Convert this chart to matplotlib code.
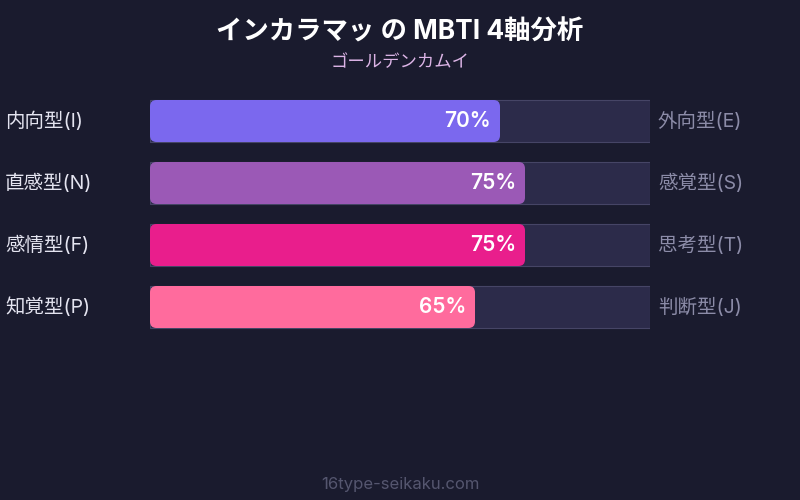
import matplotlib
matplotlib.use("Agg")
import matplotlib.pyplot as plt
from matplotlib.patches import FancyBboxPatch, Rectangle

# データ
left_labels = ["内向型(I)", "直感型(N)", "感情型(F)", "知覚型(P)"]
right_labels = ["外向型(E)", "感覚型(S)", "思考型(T)", "判断型(J)"]
values = [70, 75, 75, 65]
colors = ["#7b68ee", "#9b59b6", "#e91e8c", "#ff6b9d"]

title = "インカラマッ の MBTI 4軸分析"
subtitle = "ゴールデンカムイ"
footer = "16type-seikaku.com"

plt.rcParams['font.family'] = ['Inter', 'Noto Sans CJK JP', 'DejaVu Sans']

BG = "#1a1b2e"
TRACK = "#2c2b4a"
TRACK_EDGE = "#464566"

fig = plt.figure(figsize=(8, 5), dpi=100, facecolor=BG)

# バー領域: x=150..650px, 各行62px
ax = fig.add_axes([150 / 800, 1 - 338 / 500, 500 / 800, 248 / 500])
ax.set_facecolor(BG)
ax.set_xlim(0, 100)
ax.set_ylim(len(values) - 0.5, -0.5)
ax.axis("off")

bar_h = 42 / 62
aspect = (1 / 62) / (100 / 500)

for i, (v, c) in enumerate(zip(values, colors)):
    ax.add_patch(Rectangle((0, i - bar_h / 2), 100, bar_h,
                           facecolor=TRACK, edgecolor=TRACK_EDGE, linewidth=0.8))
    ax.add_patch(FancyBboxPatch((0, i - bar_h / 2), v, bar_h,
                                boxstyle="round,pad=0,rounding_size=1.3",
                                mutation_aspect=aspect,
                                facecolor=c, edgecolor="none"))
    ax.text(v - 1.8, i, f"{v}%", ha="right", va="center",
            color="white", fontsize=15, fontweight="semibold")
    ax.text(-29, i, left_labels[i], ha="left", va="center",
            color="#e4e4f0", fontsize=14, clip_on=False)
    ax.text(101.6, i, right_labels[i], ha="left", va="center",
            color="#8c8ca8", fontsize=14, clip_on=False)

fig.text(0.5, 1 - 33 / 500, title, ha="center", va="center",
         color="white", fontsize=19, fontweight="bold")
fig.text(0.5, 1 - 63 / 500, subtitle, ha="center", va="center",
         color="#dcb4e6", fontsize=12.5)
fig.text(0.5, 1 - 484 / 500, footer, ha="center", va="center",
         color="#55566f", fontsize=12)

fig.savefig("out.png", dpi=100, facecolor=BG)
